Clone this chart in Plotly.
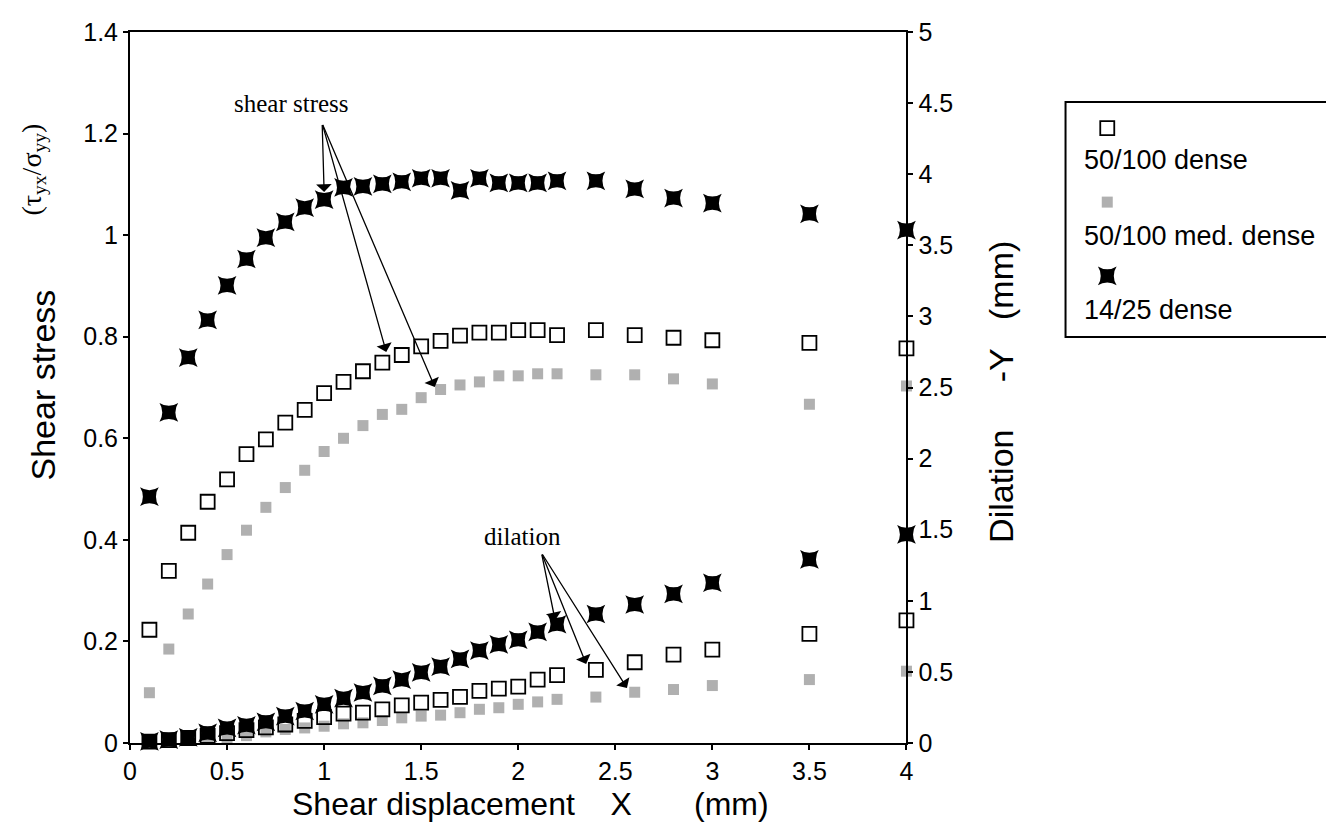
import plotly.graph_objects as go

# ---------------- data ----------------
x_disp = [0.1, 0.2, 0.3, 0.4, 0.5, 0.6, 0.7, 0.8, 0.9, 1.0, 1.1, 1.2, 1.3, 1.4,
          1.5, 1.6, 1.7, 1.8, 1.9, 2.0, 2.1, 2.2, 2.4, 2.6, 2.8, 3.0, 3.5, 4.0]

series_names = ["50/100 dense", "50/100 med. dense", "14/25 dense"]

shear_50_100_dense = [0.223, 0.339, 0.414, 0.475, 0.519, 0.569, 0.598, 0.631, 0.656, 0.689,
                      0.711, 0.732, 0.749, 0.764, 0.781, 0.792, 0.802, 0.808, 0.808, 0.813,
                      0.813, 0.803, 0.813, 0.803, 0.798, 0.793, 0.788, 0.777]
shear_50_100_med = [0.099, 0.185, 0.254, 0.313, 0.371, 0.419, 0.464, 0.503, 0.537, 0.574,
                    0.600, 0.625, 0.647, 0.657, 0.680, 0.696, 0.705, 0.711, 0.723, 0.723,
                    0.727, 0.727, 0.725, 0.725, 0.717, 0.707, 0.667, 0.703]
shear_14_25_dense = [0.485, 0.651, 0.759, 0.833, 0.901, 0.953, 0.995, 1.026, 1.054, 1.070,
                     1.094, 1.096, 1.101, 1.105, 1.112, 1.112, 1.088, 1.112, 1.103, 1.103,
                     1.103, 1.107, 1.107, 1.091, 1.073, 1.063, 1.042, 1.010]

dil_50_100_dense = [0.01, 0.02, 0.035, 0.05, 0.07, 0.09, 0.11, 0.13, 0.155, 0.182,
                    0.206, 0.213, 0.237, 0.265, 0.284, 0.303, 0.324, 0.367, 0.383, 0.397,
                    0.445, 0.478, 0.514, 0.568, 0.622, 0.657, 0.768, 0.862]
dil_50_100_med = [0.0, 0.005, 0.02, 0.03, 0.035, 0.052, 0.078, 0.095, 0.106, 0.118,
                  0.135, 0.142, 0.158, 0.177, 0.189, 0.196, 0.213, 0.237, 0.248, 0.272,
                  0.289, 0.307, 0.323, 0.357, 0.376, 0.404, 0.446, 0.505]
dil_14_25_dense = [0.012, 0.024, 0.04, 0.071, 0.106, 0.125, 0.149, 0.189, 0.225, 0.272,
                   0.315, 0.355, 0.402, 0.445, 0.497, 0.537, 0.591, 0.650, 0.693, 0.726,
                   0.781, 0.835, 0.907, 0.974, 1.049, 1.127, 1.291, 1.467]

x_ticks = [0, 0.5, 1, 1.5, 2, 2.5, 3, 3.5, 4]
y_ticks = [0, 0.2, 0.4, 0.6, 0.8, 1.0, 1.2, 1.4]
y2_ticks = [0, 0.5, 1, 1.5, 2, 2.5, 3, 3.5, 4, 4.5, 5]

# ---------------- styles ----------------
SANS = "Liberation Sans, Arial, Helvetica, sans-serif"
SERIF = "Liberation Serif, Times New Roman, serif"

styles = {
    "50/100 dense": dict(symbol="square-open", size=14, color="black",
                         line=dict(width=1.8, color="black")),
    "50/100 med. dense": dict(symbol="square", size=11, color="#b0b0b0",
                              line=dict(width=0)),
    "14/25 dense": dict(symbol="star-square", size=17, color="black",
                        line=dict(width=0)),
}

shear = {"50/100 dense": shear_50_100_dense,
         "50/100 med. dense": shear_50_100_med,
         "14/25 dense": shear_14_25_dense}
dil = {"50/100 dense": dil_50_100_dense,
       "50/100 med. dense": dil_50_100_med,
       "14/25 dense": dil_14_25_dense}

fig = go.Figure()

draw_order = ["50/100 med. dense", "50/100 dense", "14/25 dense"]
for name in draw_order:
    fig.add_trace(go.Scatter(x=x_disp, y=shear[name], mode="markers", name=name,
                             marker=styles[name], showlegend=False, cliponaxis=False,
                             xaxis="x", yaxis="y"))
    fig.add_trace(go.Scatter(x=x_disp, y=dil[name], mode="markers", name=name,
                             marker=styles[name], showlegend=False, cliponaxis=False,
                             xaxis="x", yaxis="y2"))

# ---- hand-made legend (symbol above label, as in the original) ----
leg_sym_x = 0.159
leg_sym_y = [0.889, 0.574, 0.260]
leg_txt_y = [0.753, 0.430, 0.115]
for i, name in enumerate(series_names):
    fig.add_trace(go.Scatter(x=[leg_sym_x], y=[leg_sym_y[i]], mode="markers",
                             marker=styles[name], showlegend=False, cliponaxis=False,
                             xaxis="x3", yaxis="y3", hoverinfo="skip"))

# ---------------- layout ----------------
W, H = 1334, 823
ML, MR, MT, MB = 122, 7, 24, 88
pw = W - ML - MR
ph = H - MT - MB
x_dom_end = (903 - ML) / pw

def px_x(p):
    return (p - ML) / pw

def px_y(p):
    return (H - MB - p) / ph

axis_common = dict(showline=True, linecolor="black", linewidth=2, ticks="outside",
                   ticklen=5, tickwidth=2, tickcolor="black", showgrid=False,
                   zeroline=False, tickfont=dict(family=SANS, size=25, color="black"))

fig.update_layout(
    width=W, height=H,
    margin=dict(l=ML, r=MR, t=MT, b=MB),
    paper_bgcolor="white", plot_bgcolor="white",
    xaxis=dict(domain=[0, x_dom_end], range=[0, 4], tickvals=x_ticks,
               ticktext=[f"{v:g}" for v in x_ticks], mirror=True, **axis_common),
    yaxis=dict(range=[0, 1.4], tickvals=y_ticks,
               ticktext=[f"{v:g}" for v in y_ticks], anchor="x", **axis_common),
    yaxis2=dict(range=[0, 5], tickvals=y2_ticks,
                ticktext=[f"{v:g}" for v in y2_ticks], overlaying="y", side="right",
                anchor="x", **axis_common),
    xaxis3=dict(domain=[px_x(1063), 1.0], range=[0, 1], visible=False, anchor="y3"),
    yaxis3=dict(domain=[px_y(329), px_y(94)], range=[0, 1], visible=False, anchor="x3"),
    showlegend=False,
)

# legend box
fig.add_shape(type="rect", xref="paper", yref="paper",
              x0=px_x(1063), x1=1.0, y0=px_y(329), y1=px_y(94),
              line=dict(color="black", width=2), fillcolor="rgba(0,0,0,0)")

annotations = []
for i, name in enumerate(series_names):
    annotations.append(dict(x=0.064, y=leg_txt_y[i], xref="x3", yref="y3", text=name,
                            showarrow=False, xanchor="left", yanchor="middle",
                            font=dict(family=SANS, size=27, color="black")))

nb = "\u00a0"
# axis titles
annotations.append(dict(x=px_x(34), y=px_y(377), xref="paper", yref="paper",
                        text="Shear stress", textangle=-90, showarrow=False,
                        xanchor="center", yanchor="middle",
                        font=dict(family=SANS, size=34, color="black")))
annotations.append(dict(x=px_x(25), y=px_y(162), xref="paper", yref="paper",
                        text="(τ<sub>yx</sub>/σ<sub>yy</sub>)", textangle=-90, showarrow=False,
                        xanchor="center", yanchor="middle",
                        font=dict(family=SERIF, size=28, color="black")))
annotations.append(dict(x=px_x(998), y=px_y(384), xref="paper", yref="paper",
                        text=f"Dilation{nb*5}-Y{nb*3}(mm)", textangle=-90, showarrow=False,
                        xanchor="center", yanchor="middle",
                        font=dict(family=SANS, size=34, color="black")))
annotations.append(dict(x=px_x(525), y=px_y(796), xref="paper", yref="paper",
                        text=f"Shear displacement{nb*4}X{nb*7}(mm)", showarrow=False,
                        xanchor="center", yanchor="middle",
                        font=dict(family=SANS, size=32, color="black")))

# in-plot labels
annotations.append(dict(x=0.83, y=1.26, xref="x", yref="y", text="shear stress",
                        showarrow=False, xanchor="center", yanchor="middle",
                        font=dict(family=SERIF, size=25, color="black")))
annotations.append(dict(x=2.02, y=1.455, xref="x", yref="y2", text="dilation",
                        showarrow=False, xanchor="center", yanchor="middle",
                        font=dict(family=SERIF, size=25, color="black")))

arrow_style = dict(showarrow=True, arrowhead=1, arrowsize=2.0, arrowwidth=1.3,
                   arrowcolor="black", text="", standoff=0)
# shear stress arrows: heads in data units of the left axis, common tail
for hx, hy in [(1.0, 1.085), (1.32, 0.770), (1.57, 0.701)]:
    annotations.append(dict(x=hx, y=hy, ax=0.99, ay=1.22, xref="x", yref="y",
                            axref="x", ayref="y", **arrow_style))
# dilation arrows in data units of the right axis
for hx, hy in [(2.19, 0.863), (2.35, 0.556), (2.56, 0.387)]:
    annotations.append(dict(x=hx, y=hy, ax=2.12, ay=1.336, xref="x", yref="y2",
                            axref="x", ayref="y2", **arrow_style))

fig.update_layout(annotations=annotations)

fig.write_html("out.html")
